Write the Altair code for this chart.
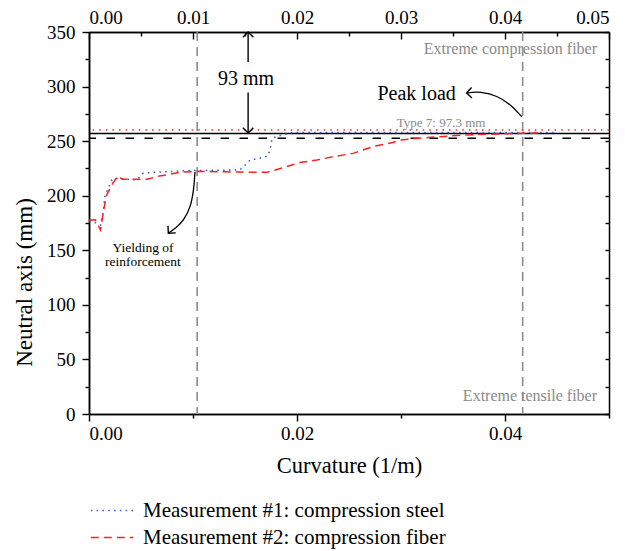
import altair as alt
import pandas as pd

# ---------------- data ----------------
SERIES = ["Measurement #1: compression steel", "Measurement #2: compression fiber"]

m1_curv = [0.0000, 0.0004, 0.0011, 0.0014, 0.0015, 0.0017, 0.0022, 0.0025, 0.0046, 0.0052,
           0.0062, 0.0081, 0.0094, 0.0145, 0.0150, 0.0155, 0.0160, 0.0167, 0.0172, 0.0174,
           0.0175, 0.0176, 0.0182, 0.0195, 0.0251, 0.0318, 0.0386, 0.0448]
m1_na = [176.0, 176.2, 173.0, 187.0, 198.5, 203.7, 214.4, 216.0, 214.4, 220.5,
         221.5, 222.3, 223.0, 223.6, 228.0, 232.7, 233.6, 235.0, 236.4, 242.0,
         246.7, 252.6, 254.7, 257.8, 258.0, 258.0, 258.0, 258.0]

m2_curv = [0.0000, 0.0006, 0.0011, 0.0015, 0.0017, 0.0023, 0.0028, 0.0032, 0.0039, 0.0056,
           0.0065, 0.0088, 0.0104, 0.0145, 0.0171, 0.0184, 0.0203, 0.0219, 0.0235, 0.0254,
           0.0273, 0.0292, 0.0299, 0.0328, 0.0360, 0.0392, 0.0417, 0.0432]
m2_na = [177.5, 178.0, 168.6, 191.5, 200.7, 211.7, 218.0, 215.0, 215.0, 215.0,
         217.5, 221.5, 222.3, 221.7, 221.4, 225.0, 230.4, 232.7, 235.8, 238.8,
         245.0, 248.8, 251.0, 253.5, 255.6, 256.5, 257.2, 257.5]

# reference lines
peak_na = 257.0          # 350 - 93
type7_na = 252.7         # 350 - 97.3
red_dot_na = 260.2
yield_curv = 0.0104
peak_curv = 0.0417

# ticks
x_bottom_major = [0.0, 0.02, 0.04]
x_bottom_minor = [0.01, 0.03, 0.05]
x_top_major = [0.0, 0.01, 0.02, 0.03, 0.04, 0.05]
x_top_minor = [0.005, 0.015, 0.025, 0.035, 0.045]
y_major = [0, 50, 100, 150, 200, 250, 300, 350]
y_minor = [25, 75, 125, 175, 225, 275, 325]

# annotations
ann_text = ["93 mm", "Peak load", "Type 7: 97.3 mm", "Extreme compression fiber",
            "Extreme tensile fiber", "Yielding of", "reinforcement"]
ann_x = [0.0151, 0.0315, 0.03385, 0.04885, 0.04885, 0.00519, 0.00519]
ann_y = [306.5, 293.5, 266.6, 334.8, 16.5, 152.1, 139.3]
ann_size = [20, 20, 13, 16, 16, 13.5, 13.5]
ann_color = ["black", "black", "#8a8a8a", "#8a8a8a", "#8a8a8a", "black", "black"]
ann_align = ["center", "center", "center", "right", "right", "center", "center"]

arrow93_x = [0.0153, 0.0153]
arrow93_top = [350.0, 294.5]
arrow93_bot = [322.5, 257.5]

peak_arrow_x = [0.0416, 0.0405, 0.0392, 0.03769, 0.0364]
peak_arrow_y = [272.4, 283.2, 290.9, 294.6, 294.3]

yield_arrow_x = [0.01019, 0.01003, 0.00971, 0.00907, 0.00827, 0.00763]
yield_arrow_y = [222.0, 204.5, 190.0, 177.8, 170.1, 165.6]

head_x = [0.0153, 0.0153, 0.0363, 0.00763]
head_y = [350.0, 257.5, 294.2, 165.6]
head_angle = [180, 0, 88, 42]

# ---------------- chart ----------------
FONT = "Liberation Serif"
xs = alt.Scale(domain=[0, 0.05], nice=False, zero=False)
ys = alt.Scale(domain=[0, 350], nice=False, zero=False)

series_df = pd.concat([
    pd.DataFrame({"curv": m1_curv, "na": m1_na, "series": SERIES[0], "idx": range(len(m1_curv))}),
    pd.DataFrame({"curv": m2_curv, "na": m2_na, "series": SERIES[1], "idx": range(len(m2_curv))}),
])

leg = alt.Legend(orient="none", legendX=1, legendY=465, title=None, symbolType="stroke",
                 symbolSize=1800, symbolStrokeWidth=1.4, labelFont=FONT, labelFontSize=21,
                 labelColor="black", labelOffset=9, rowPadding=0, clipHeight=27,
                 padding=0, labelLimit=0)

series = alt.Chart(series_df).mark_line(strokeWidth=1.5).encode(
    x=alt.X("curv:Q", scale=xs, axis=None),
    y=alt.Y("na:Q", scale=ys, axis=None),
    color=alt.Color("series:N", scale=alt.Scale(domain=SERIES, range=["#3a5fd6", "#ff2020"]), legend=leg),
    strokeDash=alt.StrokeDash("series:N", scale=alt.Scale(domain=SERIES, range=[[1.6, 4.2], [8, 5]]), legend=leg),
    order="idx:Q",
)

solid = alt.Chart(pd.DataFrame({"na": [peak_na]})).mark_rule(color="black", strokeWidth=1.6).encode(
    y=alt.Y("na:Q", scale=ys, axis=None))
dashed = alt.Chart(pd.DataFrame({"na": [type7_na]})).mark_rule(
    color="black", strokeWidth=1.5, strokeDash=[8.5, 10.5]).encode(y=alt.Y("na:Q", scale=ys, axis=None))
reddot = alt.Chart(pd.DataFrame({"na": [red_dot_na]})).mark_rule(
    color="#ff3030", strokeWidth=1.6, strokeDash=[1.6, 5]).encode(y=alt.Y("na:Q", scale=ys, axis=None))
vlines = alt.Chart(pd.DataFrame({"curv": [yield_curv, peak_curv]})).mark_rule(
    color="#8c8c8c", strokeWidth=1.6, strokeDash=[9, 6]).encode(x=alt.X("curv:Q", scale=xs, axis=None))

arrow93 = alt.Chart(pd.DataFrame({"curv": arrow93_x, "a": arrow93_top, "b": arrow93_bot})).mark_rule(
    color="black", strokeWidth=1.4).encode(
    x=alt.X("curv:Q", scale=xs, axis=None), y=alt.Y("a:Q", scale=ys, axis=None), y2="b:Q")

peak_arrow = alt.Chart(pd.DataFrame({"curv": peak_arrow_x, "na": peak_arrow_y, "i": range(5)})).mark_line(
    color="black", strokeWidth=1.3, interpolate="cardinal").encode(
    x=alt.X("curv:Q", scale=xs, axis=None), y=alt.Y("na:Q", scale=ys, axis=None), order="i:Q")
yield_arrow = alt.Chart(pd.DataFrame({"curv": yield_arrow_x, "na": yield_arrow_y, "i": range(6)})).mark_line(
    color="black", strokeWidth=1.3, interpolate="cardinal").encode(
    x=alt.X("curv:Q", scale=xs, axis=None), y=alt.Y("na:Q", scale=ys, axis=None), order="i:Q")

heads = alt.Chart(pd.DataFrame({"curv": head_x, "na": head_y, "ang": head_angle})).mark_point(
    shape="M -1 -1 L 0 0 L 1 -1", filled=False, color="black", strokeWidth=1.4, size=110, opacity=1).encode(
    x=alt.X("curv:Q", scale=xs, axis=None), y=alt.Y("na:Q", scale=ys, axis=None),
    angle=alt.Angle("ang:Q", scale=None))

ann_df = pd.DataFrame({"t": ann_text, "curv": ann_x, "na": ann_y, "size": ann_size,
                       "col": ann_color, "al": ann_align})

def ann_layer(align):
    d = ann_df[ann_df["al"] == align]
    return alt.Chart(d).mark_text(font=FONT, align=align, baseline="middle").encode(
        x=alt.X("curv:Q", scale=xs, axis=None), y=alt.Y("na:Q", scale=ys, axis=None),
        text="t:N", size=alt.Size("size:Q", scale=None), color=alt.Color("col:N", scale=None))

ann_c = ann_layer("center")
ann_r = ann_layer("right")

corner_df = pd.DataFrame({"curv": [0.0, 0.05], "na": [0.0, 350.0]})
base_ax = dict(grid=False, domainColor="black", domainWidth=1.5, tickColor="black", tickWidth=1.4,
               labelFont=FONT, labelFontSize=19, labelColor="black", titleFont=FONT,
               titleFontWeight="normal", titleColor="black")

def axis_layer(xaxis, yaxis):
    return alt.Chart(corner_df).mark_point(opacity=0).encode(
        x=alt.X("curv:Q", scale=xs, axis=xaxis), y=alt.Y("na:Q", scale=ys, axis=yaxis))

ax_bottom = axis_layer(
    alt.Axis(orient="bottom", values=x_bottom_major, format=".2f", tickSize=7, labelPadding=3,
             title="Curvature (1/m)", titlePadding=11, titleFontSize=22.5, **base_ax),
    alt.Axis(orient="left", values=y_major, format="d", tickSize=7, labelPadding=7,
             title="Neutral axis (mm)", titlePadding=10, titleFontSize=23, titleY=250, **base_ax))
ax_minor = axis_layer(
    alt.Axis(orient="bottom", values=x_bottom_minor, tickSize=4, labels=False, title=None, **base_ax),
    alt.Axis(orient="left", values=y_minor, tickSize=4, labels=False, title=None, **base_ax))
ax_top = axis_layer(
    alt.Axis(orient="top", values=x_top_major, format=".2f", tickSize={"expr": "-7"}, labelPadding=12,
             title=None, **base_ax),
    alt.Axis(orient="right", values=y_major + y_minor, tickSize={"expr": "-4"}, labels=False,
             title=None, **base_ax))
ax_top_minor = axis_layer(
    alt.Axis(orient="top", values=x_top_minor, tickSize={"expr": "-4"}, labels=False, title=None, **base_ax),
    None)

chart = alt.layer(
    vlines, reddot, dashed, solid, series, arrow93, peak_arrow, yield_arrow, heads, ann_c, ann_r,
    ax_bottom, ax_minor, ax_top, ax_top_minor,
).resolve_axis(x="independent", y="independent").properties(
    width=520, height=382,
    autosize=alt.AutoSizeParams(type="none"),
    padding={"left": 81, "top": 24, "right": 8, "bottom": 137},
).configure_view(stroke=None).configure(background="white")

chart.save("out.html", embed_options={"renderer": "svg", "actions": False})
